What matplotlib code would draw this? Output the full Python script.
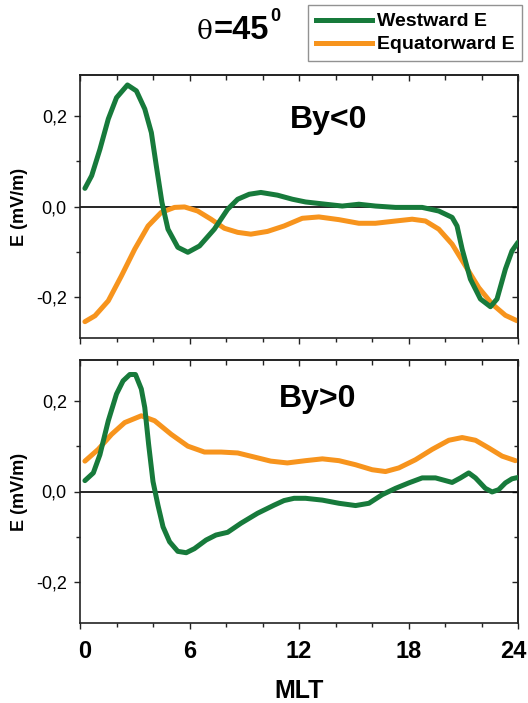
import matplotlib
matplotlib.use("Agg")
import matplotlib.pyplot as plt
from matplotlib.ticker import MultipleLocator
from matplotlib.lines import Line2D
from matplotlib.transforms import ScaledTranslation

plt.rcParams['font.family'] = ['Liberation Sans', 'DejaVu Sans']

# ---------------- data ----------------
# Top panel (By<0)
w_top_x = [0.27, 0.64, 1.09, 1.55, 2.0, 2.6, 3.09, 3.55, 3.91, 4.18, 4.49, 4.82, 5.36, 5.91,
           6.55, 7.36, 8.09, 8.64, 9.27, 9.91, 10.82, 11.64, 12.36, 13.46, 14.37, 15.28,
           16.19, 17.29, 18.75, 19.66, 20.39, 20.66, 20.94, 21.39, 21.94, 22.49, 22.85,
           23.31, 23.67, 24.0]
w_top_y = [0.040, 0.068, 0.126, 0.193, 0.240, 0.268, 0.255, 0.215, 0.163, 0.090, 0.009,
           -0.050, -0.090, -0.101, -0.087, -0.050, -0.006, 0.016, 0.027, 0.031, 0.025,
           0.016, 0.010, 0.005, 0.001, 0.005, 0.001, -0.002, -0.002, -0.010, -0.024,
           -0.043, -0.094, -0.160, -0.204, -0.221, -0.204, -0.138, -0.098, -0.079]
e_top_x = [0.27, 0.82, 1.55, 2.27, 3.0, 3.73, 4.45, 5.18, 5.73, 6.45, 7.18, 7.91, 8.64, 9.36,
           10.27, 11.18, 12.18, 13.09, 14.19, 15.28, 16.19, 17.29, 18.2, 18.93, 19.66,
           20.39, 21.12, 21.85, 22.58, 23.31, 23.95]
e_top_y = [-0.254, -0.241, -0.208, -0.153, -0.094, -0.043, -0.013, -0.002, -0.001, -0.010,
           -0.028, -0.048, -0.057, -0.061, -0.055, -0.043, -0.026, -0.023, -0.029, -0.037,
           -0.037, -0.032, -0.028, -0.032, -0.050, -0.083, -0.131, -0.179, -0.215, -0.240,
           -0.252]

# Bottom panel (By>0)
w_bot_x = [0.27, 0.73, 1.09, 1.55, 2.0, 2.36, 2.73, 3.04, 3.36, 3.55, 3.76, 4.0, 4.27, 4.55,
           4.91, 5.36, 5.82, 6.27, 6.91, 7.45, 8.09, 8.82, 9.73, 10.64, 11.18, 11.73, 12.36,
           13.28, 14.19, 15.1, 15.83, 16.56, 17.29, 18.02, 18.75, 19.48, 20.39, 20.85, 21.3,
           21.67, 22.21, 22.58, 22.94, 23.31, 23.67, 24.0]
w_bot_y = [0.024, 0.041, 0.081, 0.156, 0.215, 0.244, 0.258, 0.258, 0.226, 0.185, 0.104,
           0.022, -0.030, -0.078, -0.111, -0.132, -0.135, -0.126, -0.107, -0.096, -0.090,
           -0.070, -0.048, -0.030, -0.020, -0.015, -0.015, -0.019, -0.026, -0.031, -0.026,
           -0.007, 0.007, 0.019, 0.030, 0.030, 0.020, 0.030, 0.041, 0.030, 0.007, -0.001,
           0.004, 0.019, 0.028, 0.031]
e_bot_x = [0.27, 1.0, 1.73, 2.45, 3.36, 4.09, 5.0, 5.91, 6.82, 7.73, 8.64, 9.55, 10.45,
           11.36, 12.36, 13.28, 14.19, 15.1, 16.01, 16.74, 17.47, 18.38, 19.3, 20.21, 20.94,
           21.67, 22.4, 23.13, 23.86]
e_bot_y = [0.067, 0.093, 0.126, 0.152, 0.167, 0.156, 0.126, 0.100, 0.087, 0.087, 0.085,
           0.076, 0.067, 0.063, 0.068, 0.072, 0.068, 0.059, 0.048, 0.044, 0.052, 0.070,
           0.093, 0.113, 0.119, 0.113, 0.096, 0.078, 0.068]

panel_labels = ["By<0", "By>0"]
series_names = ["Westward E", "Equatorward E"]
title_parts = ["\u03b8", "=45", "0"]
xticks = [0, 6, 12, 18, 24]
yticks = [-0.2, 0.0, 0.2]

GREEN = "#177a3b"
ORANGE = "#f7941d"

W, H = 528, 703
fig = plt.figure(figsize=(W / 100, H / 100), dpi=100)


def fx(px):
    return px / W


def fy(py):
    return 1 - py / H


ax1 = fig.add_axes([fx(80), fy(338), fx(518) - fx(80), fy(75) - fy(338)])
ax2 = fig.add_axes([fx(80), fy(623), fx(518) - fx(80), fy(360) - fy(623)])

data = [(ax1, w_top_x, w_top_y, e_top_x, e_top_y, panel_labels[0], (0.567, 0.80)),
        (ax2, w_bot_x, w_bot_y, e_bot_x, e_bot_y, panel_labels[1], (0.542, 0.82))]

for ax, wx, wy, ex, ey, lab, pos in data:
    ax.axhline(0, color='black', lw=1.2, zorder=1)
    ax.plot(ex, ey, color=ORANGE, lw=3.6, solid_capstyle='round',
            solid_joinstyle='round', zorder=2)
    ax.plot(wx, wy, color=GREEN, lw=3.6, solid_capstyle='round',
            solid_joinstyle='round', zorder=3)
    ax.set_xlim(0, 24)
    ax.set_ylim(-0.29, 0.29)
    ax.set_xticks(xticks)
    ax.xaxis.set_minor_locator(MultipleLocator(2))
    ax.set_yticks(yticks)
    ax.yaxis.set_minor_locator(MultipleLocator(0.1))
    ax.set_yticklabels([f"{v:.1f}".replace('.', ',') for v in yticks], fontsize=13)
    # left / bottom ticks outward
    ax.tick_params(axis='both', which='major', direction='out', length=4.5, width=1.0,
                   color='#222222', pad=5)
    ax.tick_params(axis='both', which='minor', direction='out', length=2.8, width=1.0,
                   color='#222222')
    for s in ax.spines.values():
        s.set_linewidth(1.2)
        s.set_color('#222222')
    # top / right ticks inward (secondary axes without labels)
    tx = ax.secondary_xaxis('top')
    tx.set_xticks(xticks)
    tx.xaxis.set_minor_locator(MultipleLocator(2))
    tx.tick_params(which='both', direction='in', labeltop=False, width=1.0, color='#222222')
    tx.tick_params(which='major', length=4.5)
    tx.tick_params(which='minor', length=3.5)
    ry = ax.secondary_yaxis('right')
    ry.set_yticks(yticks)
    ry.yaxis.set_minor_locator(MultipleLocator(0.1))
    ry.tick_params(which='both', direction='in', labelright=False, width=1.0, color='#222222')
    ry.tick_params(which='major', length=4.5)
    ry.tick_params(which='minor', length=2.8)
    for sec in (tx, ry):
        for s in sec.spines.values():
            s.set_linewidth(1.2)
            s.set_color('#222222')
    ax.set_ylabel("E (mV/m)", fontsize=13, fontweight='bold', labelpad=5)
    ax.text(pos[0], pos[1], lab, transform=ax.transAxes, fontsize=23, fontweight='bold',
            ha='center', va='baseline')

ax1.set_xticklabels([])
ax2.set_xticklabels([str(v) for v in xticks], fontsize=17, fontweight='bold')
ax2.tick_params(axis='x', which='major', pad=8)
for ax in (ax1, ax2):
    ax.yaxis.set_label_coords(-0.118, 0.5)

# nudge the end tick labels inward like the reference
xlabels = ax2.get_xticklabels()
xlabels[0].set_transform(xlabels[0].get_transform() +
                         ScaledTranslation(0.05, 0, fig.dpi_scale_trans))
xlabels[-1].set_transform(xlabels[-1].get_transform() +
                          ScaledTranslation(-0.05, 0, fig.dpi_scale_trans))

fig.text(fx(299), fy(698), "MLT", fontsize=18, fontweight='bold', ha='center',
         va='baseline')

# title  θ=45⁰ built from pieces placed one after another
renderer = fig.canvas.get_renderer()
t1 = fig.text(fx(197), fy(39), title_parts[0], fontsize=19, family=['DejaVu Serif'],
              ha='left', va='baseline')
x_end = t1.get_window_extent(renderer).x1
t2 = fig.text(x_end / W + 0.001, fy(39), title_parts[1], fontsize=23.5, fontweight='bold',
              ha='left', va='baseline')
x_end = t2.get_window_extent(renderer).x1
t3 = fig.text(x_end / W + 0.003, fy(21), title_parts[2], fontsize=13, fontweight='bold',
              ha='left', va='baseline')

handles = [Line2D([], [], color=GREEN, lw=3.6), Line2D([], [], color=ORANGE, lw=3.6)]
leg = fig.legend(handles, series_names, loc='upper left', bbox_to_anchor=(fx(308), fy(5)),
                 prop={'weight': 'bold', 'size': 14}, frameon=True, fancybox=False,
                 edgecolor='#777777', handlelength=2.9, handletextpad=0.25,
                 borderpad=0.4, labelspacing=0.28, borderaxespad=0)
leg.get_frame().set_linewidth(1.0)

fig.savefig("out.png", dpi=100)
